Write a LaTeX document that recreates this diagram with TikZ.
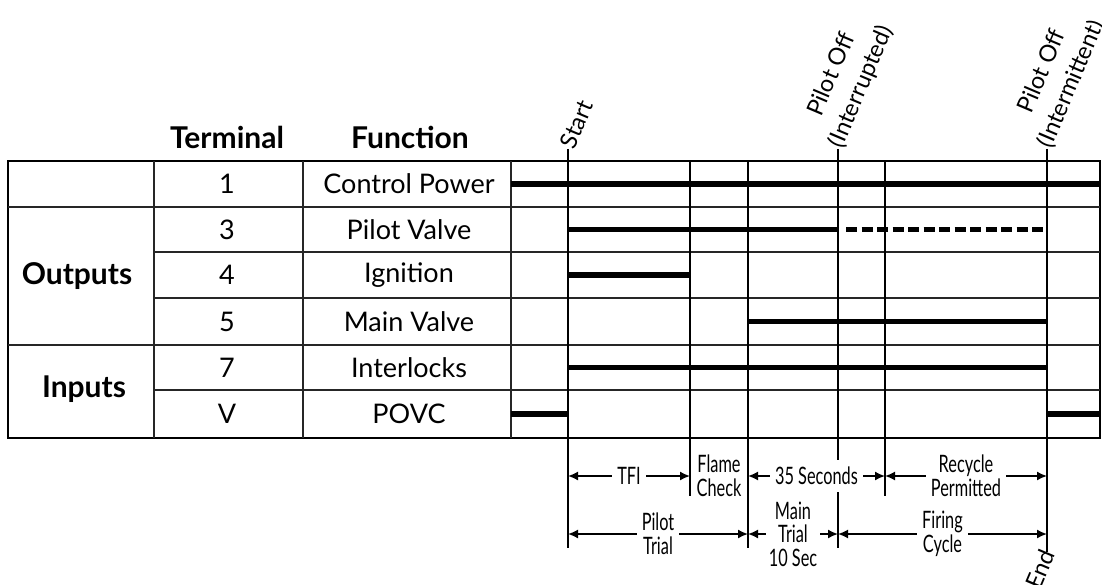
\documentclass[tikz,border=0pt]{standalone}
\usepackage{fontspec}
\setmainfont{Lato}
\newfontfamily\narrowfont[FakeStretch=0.68]{Lato}
\usetikzlibrary{arrows.meta}
\tikzset{
  frame/.style={line width=2.4pt},
  rule/.style={line width=1.3pt, black!85},
  timeline/.style={line width=1.7pt},
  signal/.style={line width=5.5pt},
  hdr/.style={font=\fontsize{30}{32}\selectfont\bfseries},
  cellt/.style={font=\fontsize{27}{29}\selectfont},
  event/.style={font=\fontsize{23.5}{32}\selectfont, rotate=67, anchor=west, align=center, inner sep=0pt},
  span/.style={{Latex[length=10pt,width=9pt]}-{Latex[length=10pt,width=9pt]}, line width=1.6pt},
  spanlab/.style={fill=white, align=center, inner xsep=5pt, inner ysep=2pt, font=\narrowfont\fontsize{24}{23.5}\selectfont}
}

\begin{document}
\begin{tikzpicture}[x=1pt, y=-1pt]
  \useasboundingbox (0,0) rectangle (1102,585);

  \draw[frame] (8,161) rectangle (1100,438);
  \foreach \x in {154,303,511} \draw[rule] (\x,161) -- (\x,438);
  \foreach \y in {207,345} \draw[rule] (8,\y) -- (1100,\y);
  \foreach \y in {252,298,390} \draw[rule] (154,\y) -- (1100,\y);

  \foreach \x/\n in {568/s,690/f,748/m,838/i,885/r,1047/e}
    \coordinate (t\n) at (\x,161);
  \coordinate (lane1) at (0,476);
  \coordinate (lane2) at (0,534);

  \draw[timeline] (ts) ++(0,-12) -- (ts |- 0,548);
  \draw[timeline] (tf) -- (tf |- 0,496);
  \draw[timeline] (tm) -- (tm |- 0,548);
  \draw[timeline] (ti) ++(0,-12) -- (ti |- 0,548);
  \draw[timeline] (tr) -- (tr |- 0,496);
  \draw[timeline] (te) ++(0,-12) -- (te |- 0,552);

  \node[hdr] (termhd) at (227,137) {Terminal};
  \node[hdr] (funchd) at (410,137) {Function};
  \node[hdr] (outs) at (77,276) {Outputs};
  \node[hdr] (ins) at (84,389) {Inputs};

  \foreach \y/\t/\f [count=\i] in {184/1/Control Power, 229.5/3/Pilot Valve,
      275/4/Ignition, 321.5/5/Main Valve, 367.5/7/Interlocks, 414/V/POVC} {
    \node[cellt] (term\i) at (227,\y) {\t};
    \node[cellt] (func\i) at (409,\y) {\f};
  }

  \draw[signal] (511,184) -- (1100,184);
  \draw[signal] (ts |- 0,229.5) -- (ti |- 0,229.5);
  \draw[signal, dash pattern=on 11pt off 4.5pt] (846,229.5) -- (1045,229.5);
  \draw[signal] (ts |- 0,275) -- (tf |- 0,275);
  \draw[signal] (tm |- 0,321.5) -- (te |- 0,321.5);
  \draw[signal] (ts |- 0,367.5) -- (te |- 0,367.5);
  \draw[signal] (511,414) -- (ts |- 0,414);
  \draw[signal] (te |- 0,414) -- (1100,414);

  \node[event] (lstart) at (567,147) {Start};
  \node[event, yshift=16pt] (linter) at (836,147) {Pilot Off\\(Interrupted)};
  \node[event, yshift=16pt] (linterm) at (1045,147) {Pilot Off\\(Intermittent)};
  \node[event, anchor=east] (lend) at (1048,551) {End};

  \draw[span] (ts |- lane1) -- (tf |- lane1) node[midway, spanlab] (tfi) {TFI};
  \node[spanlab, inner xsep=1pt] (flame) at (719,476) {Flame\\Check};
  \draw[span] (tm |- lane1) -- (tr |- lane1) node[midway, spanlab, inner ysep=7pt] (secs) {35 Seconds};
  \draw[span] (tr |- lane1) -- (te |- lane1) node[midway, spanlab] (recyc) {Recycle\\Permitted};
  \draw[span] (ts |- lane2) -- (tm |- lane2) node[midway, spanlab] (ptrial) {Pilot\\Trial};
  \draw[span] (tm |- lane2) -- (ti |- lane2) node[midway, spanlab, inner xsep=3pt] (mtrial) {Main\\Trial\\10 Sec};
  \draw[span] (ti |- lane2) -- (te |- lane2) node[midway, spanlab] (firing) {Firing\\Cycle};
\end{tikzpicture}
\end{document}
